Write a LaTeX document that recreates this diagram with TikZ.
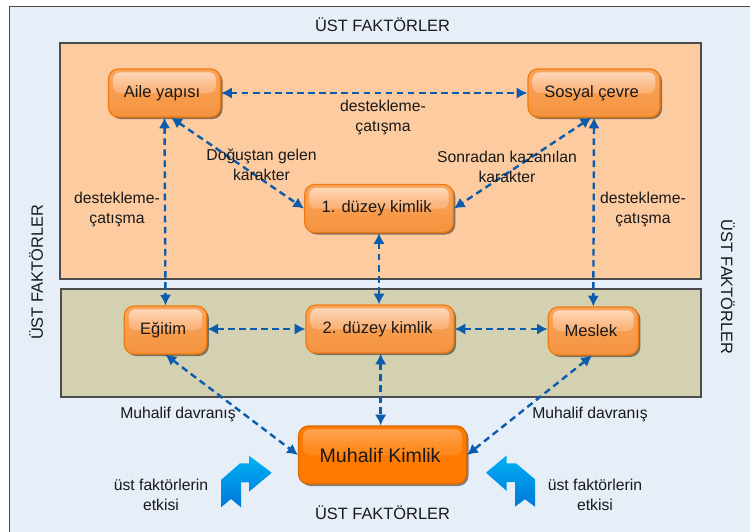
\documentclass[tikz,border=0pt]{standalone}
\usepackage{fontspec}
\setmainfont{Liberation Sans}
\usetikzlibrary{arrows.meta,shadows}
\definecolor{outerbg}{HTML}{E6EEF8}
\definecolor{topbg}{HTML}{FDCBA0}
\definecolor{midbg}{HTML}{D4D0B2}
\definecolor{edgeblue}{HTML}{0B5CAD}
\definecolor{boxedge}{HTML}{EE7A10}
\definecolor{boxtop}{HTML}{F9A65E}
\definecolor{boxbot}{HTML}{F5933F}
\definecolor{glosstop}{HTML}{FFDFC6}
\definecolor{glossmid}{HTML}{FBB67E}
\definecolor{glossbot}{HTML}{F9A65E}
\definecolor{strongedge}{HTML}{D96A00}
\definecolor{strongbase}{HTML}{FF7A00}
\definecolor{stronggloss}{HTML}{FFA858}
\definecolor{strongmid}{HTML}{FF8A20}
\definecolor{arrowtop}{HTML}{00B0F5}
\definecolor{arrowbot}{HTML}{0078D8}
\pgfdeclareverticalshading{softgloss}{100bp}{color(0bp)=(glossbot); color(25bp)=(glossbot); color(55bp)=(glossmid); color(75bp)=(glosstop); color(100bp)=(glosstop)}
\pgfdeclareverticalshading{stronggl}{100bp}{color(0bp)=(strongbase); color(25bp)=(strongbase); color(55bp)=(strongmid); color(75bp)=(stronggloss); color(100bp)=(stronggloss)}
\tikzset{
  x=0.75pt,y=-0.75pt,
  panel/.style={draw=black!70,line width=0.8pt},
  kbox/.style={rounded corners=7.5pt,draw=boxedge,line width=0.9pt,top color=boxtop,bottom color=boxbot,
    drop shadow={shadow xshift=1.5pt,shadow yshift=-1.5pt,opacity=.45,fill=black},
    minimum height=36pt,text=black!90,font=\fontsize{12.4pt}{14pt}\selectfont,inner sep=0pt,
    execute at begin node={\hspace*{-3.6pt}},
    path picture={\shade[rounded corners=5pt,shading=softgloss]
      ([xshift=3.5pt,yshift=-2.5pt]path picture bounding box.north west) rectangle
      ([xshift=-3.5pt,yshift=-18pt]path picture bounding box.north east);}},
  strongbox/.style={rounded corners=7.5pt,draw=strongedge,line width=0.9pt,fill=strongbase,
    drop shadow={shadow xshift=1.5pt,shadow yshift=-1.5pt,opacity=.45,fill=black},
    text=black!90,font=\fontsize{14.7pt}{16pt}\selectfont,inner sep=0pt,minimum height=43.5pt,
    execute at begin node={\hspace*{-3.6pt}},
    path picture={\shade[rounded corners=5pt,shading=stronggl]
      ([xshift=3.5pt,yshift=-2.5pt]path picture bounding box.north west) rectangle
      ([xshift=-3.5pt,yshift=-22pt]path picture bounding box.north east);}},
  link/.style={draw=edgeblue,line width=1.8pt,dash pattern=on 5pt off 3.3pt,{Latex[length=8pt,width=8.5pt]}-{Latex[length=8pt,width=8.5pt]}},
  lbl/.style={align=center,text=black!90,font=\fontsize{11.8pt}{15pt}\selectfont,inner sep=0pt},
  ust/.style={text=black!90,font=\fontsize{12.3pt}{14pt}\selectfont,inner sep=0pt},
  bluearrow/.style={top color=arrowtop,bottom color=arrowbot,draw=none}
}
\begin{document}
\begin{tikzpicture}
\useasboundingbox (0,0) rectangle (750,532);
\fill[white] (0,0) rectangle (750,532);
\draw[panel,fill=outerbg] (9.5,6.5) rectangle (760,540);
\draw[panel,fill=topbg] (60,43) rectangle (701,279);
\draw[panel,fill=midbg] (61,289) rectangle (701,397);

\node[kbox,minimum width=84pt] (aile) at (164.5,93) {Aile yapısı};
\node[kbox,minimum width=99pt] (sosyal) at (594,93) {Sosyal çevre};
\node[kbox,minimum width=111.5pt] (d1) at (379,208.5) {1. düzey kimlik};
\node[kbox,minimum width=62pt] (egitim) at (165.5,330) {Eğitim};
\node[kbox,minimum width=111pt] (d2) at (380,329) {2. düzey kimlik};
\node[kbox,minimum width=67.5pt] (meslek) at (593.3,331) {Meslek};
\node[strongbox,minimum width=126pt] (muhalif) at (382.5,455) {Muhalif Kimlik};

\begin{scope}
\draw[link] (aile.east) -- (sosyal.west);
\draw[link] (aile.south) -- (egitim.north);
\draw[link] ([xshift=5pt]aile.south) -- (d1.west);
\draw[link] ([xshift=-2pt]sosyal.south) -- (d1.east);
\draw[link] (sosyal.south) -- (meslek.north);
\draw[link] (d1.south) -- (d1.south |- d2.north);
\draw[link] (egitim.east |- d2.west) -- (d2.west);
\draw[link] (d2.east) -- (d2.east -| meslek.west);
\draw[link] ([xshift=0.5pt]d2.south) -- ([xshift=0.5pt]d2.south |- muhalif.north);
\draw[link] (egitim.south) -- (muhalif.west);
\draw[link] ([xshift=-1pt]meslek.south) -- (muhalif.east);
\end{scope}

\node[ust] (t1) at (382.5,25) {ÜST FAKTÖRLER};
\node[ust] (t2) at (382.5,513) {ÜST FAKTÖRLER};
\node[ust,rotate=90] (t3) at (36,272.5) {ÜST FAKTÖRLER};
\node[ust,rotate=-90] (t4) at (728,287) {ÜST FAKTÖRLER};

\node[lbl] (l1) at (383,117) {destekleme-\\çatışma};
\node[lbl] (l2) at (117,209) {destekleme-\\çatışma};
\node[lbl] (l3) at (643,209) {destekleme-\\çatışma};
\node[lbl] (l4) at (261.5,165) {Doğuştan gelen\\karakter};
\node[lbl] (l5) at (507,167) {Sonradan kazanılan\\karakter};
\node[lbl] (l6) at (178,414) {Muhalif davranış};
\node[lbl] (l7) at (590,414) {Muhalif davranış};
\node[lbl] (l8) at (161,495) {üst faktörlerin\\etkisi};
\node[lbl] (l9) at (595,495) {üst faktörlerin\\etkisi};

\shade[bluearrow] (221,507.3) -- (221,480) -- (240,463.3) -- (249,463.3) -- (249,455.7) -- (271.7,472.7) -- (249,491.7) -- (249,482.3) -- (241,482.3) -- (241,507.3) -- (231,499) -- cycle;
\shade[bluearrow] (486,472.7) -- (506.7,455.3) -- (506.7,463.3) -- (516,463.3) -- (535,479.3) -- (535,506.7) -- (525,499.3) -- (515,506.7) -- (515,482) -- (506.7,482) -- (506.7,491) -- cycle;
\end{tikzpicture}
\end{document}
